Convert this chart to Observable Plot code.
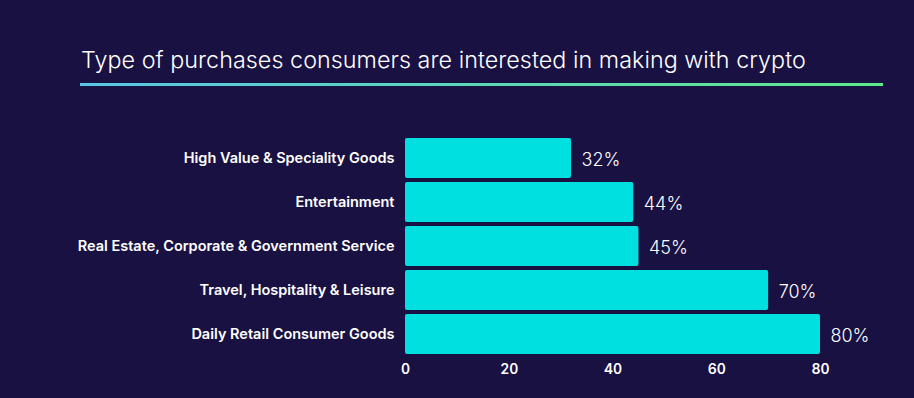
<!DOCTYPE html>
<html>
<head>
<meta charset="utf-8">
<script src="https://cdn.jsdelivr.net/npm/d3@7"></script>
<script src="https://cdn.jsdelivr.net/npm/@observablehq/plot@0.6"></script>
<style>
  html, body { margin: 0; padding: 0; background: #191141; }
  #wrap { position: relative; width: 914px; height: 398px; background: #191141; overflow: hidden; font-family: Inter, "Noto Sans", sans-serif; }
  #title { position: absolute; left: 81px; top: 45px; color: #ffffff; font-size: 23.3px; font-weight: 300; letter-spacing: 0.05px; white-space: nowrap; }
  #rule { position: absolute; left: 80px; top: 83px; width: 803px; height: 3px; background: linear-gradient(to right, #58c6e4, #5ee98c); }
  #chart { position: absolute; left: 0; top: 0; }
</style>
</head>
<body>
<div id="wrap">
  <div id="chart"></div>
  <div id="title">Type of purchases consumers are interested in making with crypto</div>
  <div id="rule"></div>
</div>
<script>
const categories = [
  "High Value & Speciality Goods",
  "Entertainment",
  "Real Estate, Corporate & Government Service",
  "Travel, Hospitality & Leisure",
  "Daily Retail Consumer Goods"
];
const values = [32, 44, 45, 70, 80];
const xTicks = [0, 20, 40, 60, 80];

const data = categories.map((c, i) => ({category: c, value: values[i]}));

const chart = Plot.plot({
  width: 914,
  height: 398,
  marginTop: 135,
  marginBottom: 41,
  marginLeft: 405,
  marginRight: 94,
  style: {background: "transparent", color: "#ffffff", fontFamily: "Inter, 'Noto Sans', sans-serif"},
  x: {domain: [0, 80], ticks: xTicks, label: null},
  y: {domain: categories, label: null, paddingInner: 0.1, paddingOuter: 0.05},
  marks: [
    Plot.barX(data, {x: "value", y: "category", fill: "#00e0e1", rx: 2}),
    Plot.text(data, {x: "value", y: "category", text: d => d.value + "%", textAnchor: "start", dx: 10, dy: 2, fill: "#ffffff", fontSize: 18, fontWeight: 300}),
    Plot.axisY({tickSize: 0, tickPadding: 11, fontSize: 14.5, fontWeight: 600, fill: "#ffffff", label: null}),
    Plot.axisX({ticks: xTicks, tickSize: 0, tickPadding: 7, fontSize: 14, fontWeight: 600, fill: "#ffffff", label: null})
  ]
});
document.getElementById("chart").appendChild(chart);
</script>
</body>
</html>
